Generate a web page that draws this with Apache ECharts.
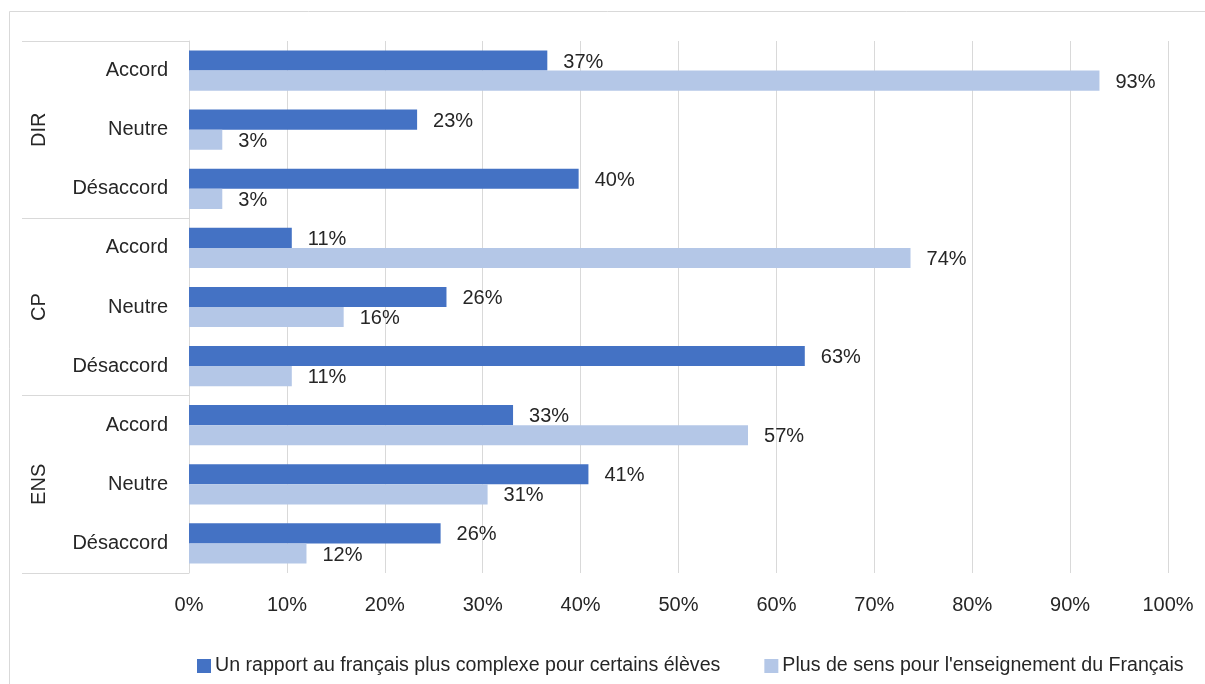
<!DOCTYPE html>
<html>
<head>
<meta charset="utf-8">
<script src="https://cdn.jsdelivr.net/npm/echarts@6/dist/echarts.min.js"></script>
<style>
html,body{margin:0;padding:0;background:#fff;}
#chart{width:1205px;height:684px;}
</style>
</head>
<body>
<div id="chart"></div>
<script>
const groups = ['DIR', 'CP', 'ENS'];
const categories = ['Accord', 'Neutre', 'Désaccord', 'Accord', 'Neutre', 'Désaccord', 'Accord', 'Neutre', 'Désaccord'];
const seriesNames = ['Un rapport au français plus complexe pour certains élèves', "Plus de sens pour l'enseignement du Français"];
const complexeValues = [36.6, 23.3, 39.8, 10.5, 26.3, 62.9, 33.1, 40.8, 25.7];
const sensValues = [93.0, 3.4, 3.4, 73.7, 15.8, 10.5, 57.1, 30.5, 12.0];
const xTicks = [0, 10, 20, 30, 40, 50, 60, 70, 80, 90, 100];

const FONT = "'Liberation Sans Narrow', 'Arial Narrow', 'Liberation Sans', sans-serif";
const FS = 20;
const TXT = '#262626';
const GRID = '#D9D9D9';

const chart = echarts.init(document.getElementById('chart'), null, {renderer: 'canvas'});
const labelOpt = {
  show: true,
  position: 'right',
  distance: 16,
  offset: [0, 1.5],
  color: TXT,
  fontFamily: FONT,
  fontSize: FS,
  formatter: p => Math.round(p.value) + '%'
};
chart.setOption({
  animation: false,
  textStyle: {fontFamily: FONT, color: TXT},
  graphic: [{
    type: 'rect',
    shape: {x: 9.5, y: 11.5, width: 1220, height: 700},
    style: {fill: 'none', stroke: GRID, lineWidth: 1},
    silent: true,
    z: -1
  }],
  grid: {left: 189, right: 37, top: 41, bottom: 111, containLabel: false},
  legend: {
    left: 192,
    top: 651,
    itemWidth: 14,
    itemHeight: 14,
    itemGap: 44,
    icon: 'rect',
    textStyle: {fontFamily: FONT, fontSize: 19.6, color: TXT, padding: [0, 0, 0, -1]},
    data: seriesNames
  },
  xAxis: {
    type: 'value',
    min: xTicks[0],
    max: xTicks[xTicks.length - 1],
    interval: 10,
    axisLine: {show: false},
    axisTick: {show: false},
    splitLine: {show: true, lineStyle: {color: GRID, width: 1}},
    axisLabel: {formatter: '{value}%', fontSize: FS, fontFamily: FONT, color: TXT, margin: 22}
  },
  yAxis: [{
    type: 'category',
    data: categories,
    inverse: true,
    axisLine: {show: true, lineStyle: {color: GRID, width: 1}},
    axisTick: {show: false},
    axisLabel: {fontSize: FS, fontFamily: FONT, color: TXT, margin: 21}
  }, {
    type: 'category',
    data: groups,
    inverse: true,
    position: 'left',
    offset: 0,
    axisLine: {show: false},
    axisTick: {show: true, length: 167, lineStyle: {color: GRID, width: 1}},
    axisLabel: {fontSize: FS, fontFamily: FONT, color: TXT, rotate: 90, margin: 140}
  }],
  series: [{
    name: seriesNames[0],
    type: 'bar',
    yAxisIndex: 0,
    data: complexeValues,
    itemStyle: {color: '#4472C4'},
    barGap: '0%',
    barCategoryGap: '32%',
    label: labelOpt
  }, {
    name: seriesNames[1],
    type: 'bar',
    yAxisIndex: 0,
    data: sensValues,
    itemStyle: {color: '#B4C7E7'},
    barGap: '0%',
    barCategoryGap: '32%',
    label: labelOpt
  }]
});
</script>
</body>
</html>
